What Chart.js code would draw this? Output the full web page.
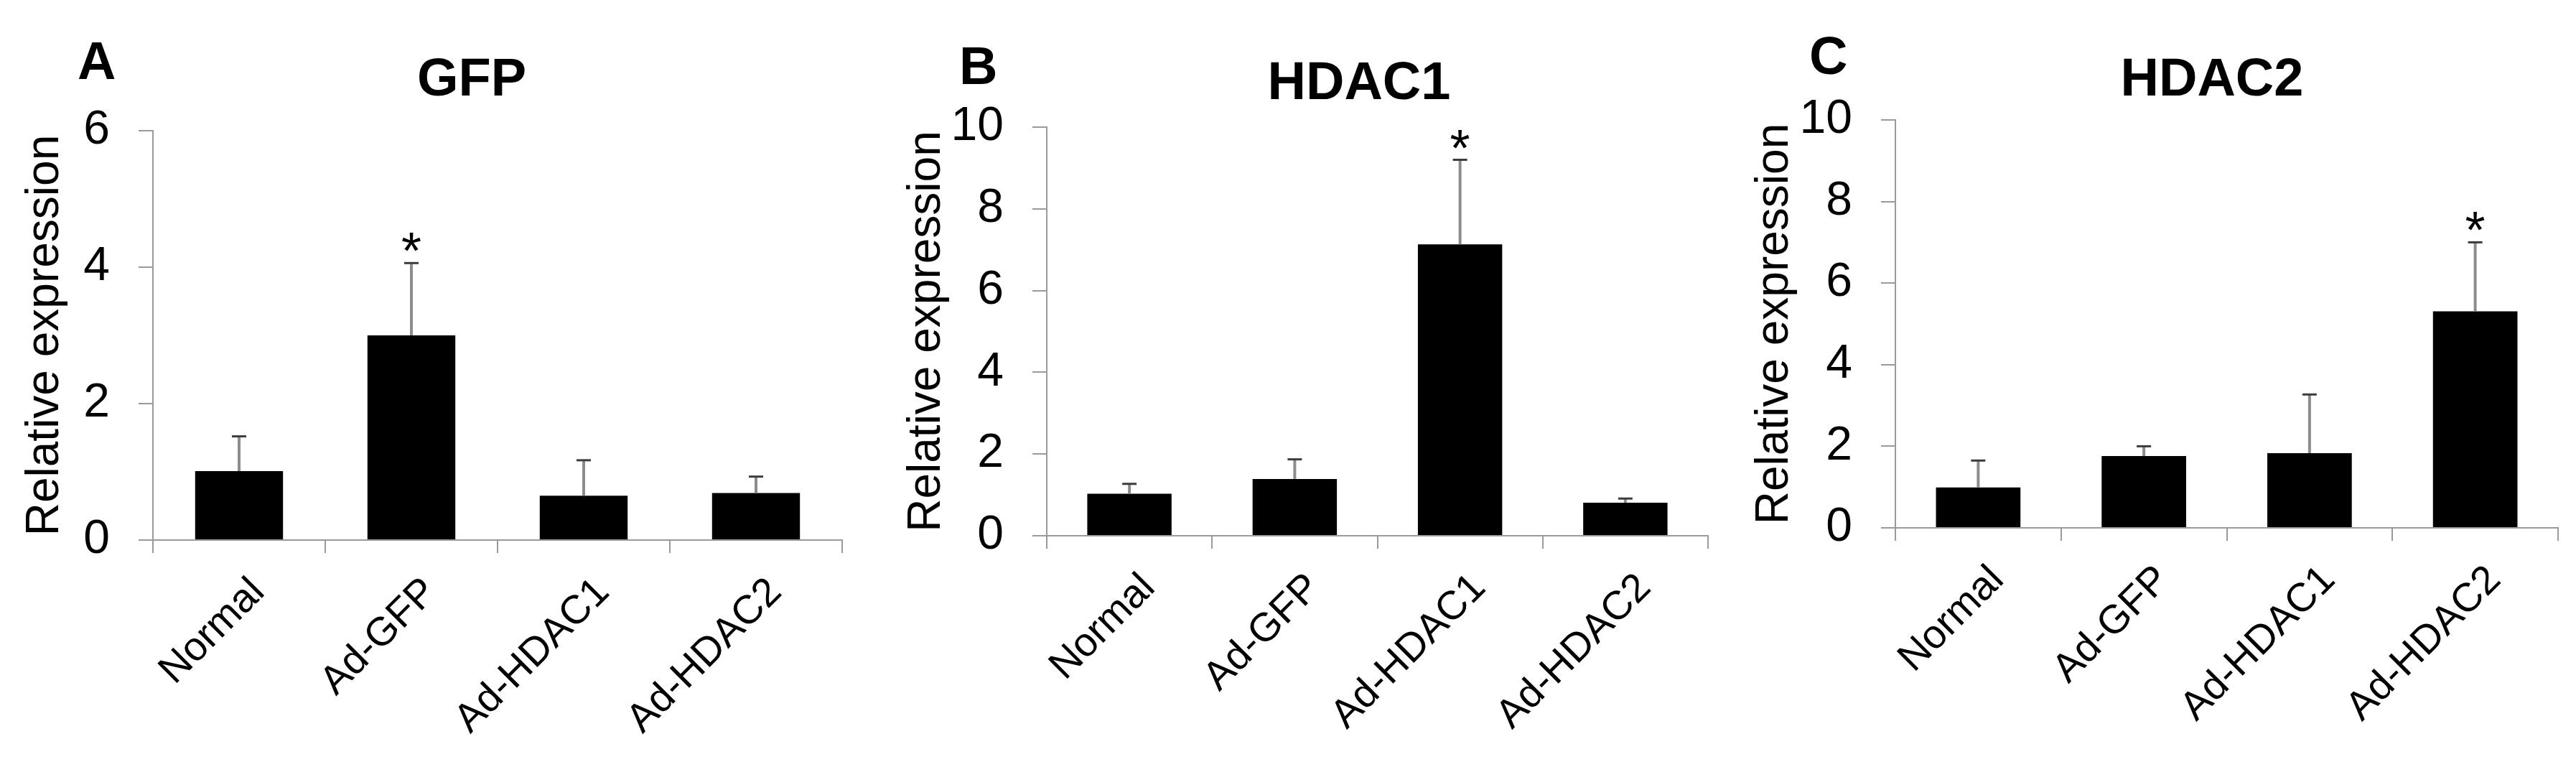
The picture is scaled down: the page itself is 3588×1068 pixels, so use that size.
<!DOCTYPE html>
<html><head><meta charset="utf-8">
<script src="https://cdn.jsdelivr.net/npm/chart.js@4"></script>
<style>
html,body{margin:0;padding:0;background:#fff;width:3588px;height:1068px;overflow:hidden;position:relative;font-family:"Liberation Sans",Arial,sans-serif}
.panel{position:absolute;top:0;height:1068px}
.letter{position:absolute;font-weight:bold;font-size:74px;line-height:74px;color:#000}
</style></head><body>
<div class="panel" style="left:0px;width:1314px"><canvas id="cA" width="1314" height="1068"></canvas></div>
<div class="panel" style="left:1220px;width:1346px"><canvas id="cB" width="1346" height="1068"></canvas></div>
<div class="panel" style="left:2420px;width:1322px"><canvas id="cC" width="1322" height="1068"></canvas></div>
<div class="letter" id="lA" style="left:108px;top:48px"></div>
<div class="letter" id="lB" style="left:1336px;top:55px"></div>
<div class="letter" id="lC" style="left:2520px;top:41px"></div>
<script>
// ---- data ----
const categories = ['Normal', 'Ad-GFP', 'Ad-HDAC1', 'Ad-HDAC2'];
const titles = ['GFP', 'HDAC1', 'HDAC2'];
const panelLetters = ['A', 'B', 'C'];
const yTitle = 'Relative expression';
const yMaxes = [6, 10, 10];
const yStep = 2;

const gfpMeans   = [1.01, 3.00, 0.65, 0.69];
const gfpErrors  = [0.51, 1.06, 0.52, 0.24];
const gfpSig     = ['', '*', '', ''];

const hdac1Means  = [1.03, 1.39, 7.13, 0.81];
const hdac1Errors = [0.24, 0.48, 2.07, 0.10];
const hdac1Sig    = ['', '', '*', ''];

const hdac2Means  = [0.99, 1.76, 1.83, 5.31];
const hdac2Errors = [0.66, 0.24, 1.44, 1.69];
const hdac2Sig    = ['', '', '', '*'];

// ---- layout / style ----
const FONT = '"Liberation Sans", Arial, sans-serif';
const AXIS = '#9a9a9a';
const layoutCfg = [
  {yw: 213, rb: 141, xh: 316, tpTop: 68,   tpBottom: 25.2, ytPad: 25},
  {yw: 238, rb: 187, xh: 322, tpTop: 73.6, tpBottom: 14.6, ytPad: 33},
  {yw: 220, rb: 179, xh: 333, tpTop: 68.6, tpBottom: 9.6,  ytPad: 14}
];

document.getElementById('lA').textContent = panelLetters[0];
document.getElementById('lB').textContent = panelLetters[1];
document.getElementById('lC').textContent = panelLetters[2];

const errorBarPlugin = {
  id: 'errorBars',
  afterDatasetsDraw(chart, args, opts) {
    const ctx = chart.ctx;
    const ys = chart.scales.y;
    const meta = chart.getDatasetMeta(0);
    const vals = chart.data.datasets[0].data;
    meta.data.forEach((bar, i) => {
      const v = vals[i], e = opts.errors[i];
      const x = bar.x;
      const yv = ys.getPixelForValue(v);
      const ye = ys.getPixelForValue(v + e);
      ctx.save();
      ctx.strokeStyle = '#8c8c8c';
      ctx.lineWidth = 4;
      ctx.beginPath(); ctx.moveTo(x, yv); ctx.lineTo(x, ye); ctx.stroke();
      ctx.strokeStyle = '#3c3c3c';
      ctx.lineWidth = 3;
      ctx.beginPath(); ctx.moveTo(x - 10, ye); ctx.lineTo(x + 10, ye); ctx.stroke();
      if (opts.sig[i]) {
        ctx.fillStyle = '#000';
        ctx.font = '72px ' + FONT;
        ctx.textAlign = 'center';
        ctx.textBaseline = 'alphabetic';
        ctx.fillText(opts.sig[i], x, ye + 8);
      }
      ctx.restore();
    });
  }
};

function makeChart(id, i, means, errors, sig) {
  const L = layoutCfg[i];
  return new Chart(document.getElementById(id), {
    type: 'bar',
    data: {
      labels: categories,
      datasets: [{
        data: means,
        backgroundColor: '#000',
        borderWidth: 0,
        barPercentage: 0.51,
        categoryPercentage: 1
      }]
    },
    options: {
      responsive: false,
      animation: false,
      devicePixelRatio: 1,
      layout: {padding: 0},
      plugins: {
        legend: {display: false},
        tooltip: {enabled: false},
        title: {
          display: true, text: titles[i], color: '#000',
          font: {family: FONT, size: 74, weight: 'bold', lineHeight: 1.2},
          padding: {top: L.tpTop, bottom: L.tpBottom}
        },
        errorBars: {errors: errors, sig: sig}
      },
      scales: {
        x: {
          grid: {display: true, drawOnChartArea: false, drawTicks: true, tickLength: 18, color: AXIS, lineWidth: 2, offset: true},
          border: {display: true, color: AXIS, width: 2},
          ticks: {color: '#000', font: {family: FONT, size: 56}, minRotation: 45, maxRotation: 45, autoSkip: false, padding: 22, labelOffset: 27},
          afterFit(s) { s.height = L.xh; }
        },
        y: {
          min: 0, max: yMaxes[i],
          grid: {drawOnChartArea: false, drawTicks: true, tickLength: 20, color: AXIS, lineWidth: 2},
          border: {display: true, color: AXIS, width: 2},
          ticks: {stepSize: yStep, color: '#000', font: {family: FONT, size: 66}, padding: 40},
          title: {display: true, text: yTitle, color: '#000', font: {family: FONT, size: 64}, padding: {top: L.ytPad, bottom: 0}},
          afterFit(s) { s.width = L.yw; }
        },
        yR: {
          type: 'linear', position: 'right', display: true,
          grid: {display: false}, border: {display: false}, ticks: {display: false},
          afterFit(s) { s.width = L.rb; }
        }
      }
    },
    plugins: [errorBarPlugin]
  });
}

makeChart('cA', 0, gfpMeans, gfpErrors, gfpSig);
makeChart('cB', 1, hdac1Means, hdac1Errors, hdac1Sig);
makeChart('cC', 2, hdac2Means, hdac2Errors, hdac2Sig);
</script>
</body></html>
